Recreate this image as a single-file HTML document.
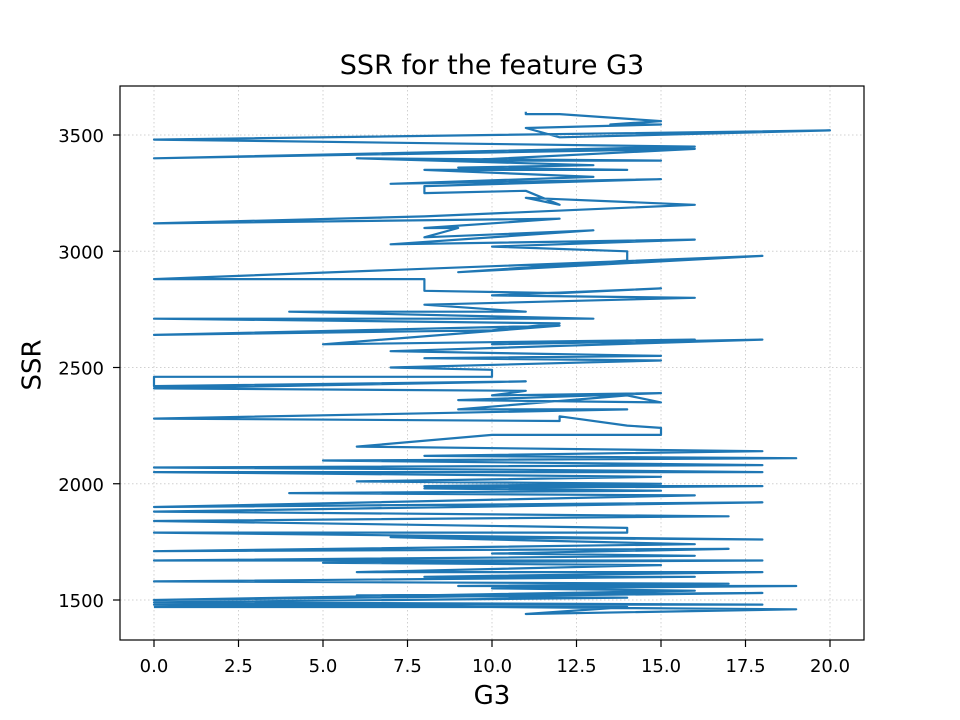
<!DOCTYPE html>
<html><head><meta charset="utf-8">
<style>
html,body{margin:0;padding:0;background:#fff;}
svg{display:block;font-family:"DejaVu Sans","Liberation Sans",sans-serif;}
</style></head>
<body>
<svg id="chart" width="960" height="720">
  <rect x="0" y="0" width="960" height="720" fill="#fff"/>
  <g id="grid"></g>
  <g id="series"></g>
  <rect x="120" y="86" width="744" height="554" fill="none" stroke="#000" stroke-width="1.2"/>
  <g id="xticks"></g>
  <g id="yticks"></g>
  <text x="492" y="74" text-anchor="middle" font-size="27">SSR for the feature G3</text>
  <text x="492" y="704" text-anchor="middle" font-size="26">G3</text>
  <text x="33" y="365" text-anchor="middle" font-size="26" transform="rotate(-90 33 365)" dominant-baseline="middle">SSR</text>
</svg>
<script>
const xTicks = [0, 2.5, 5, 7.5, 10, 12.5, 15, 17.5, 20];
const xTickLabels = ["0.0","2.5","5.0","7.5","10.0","12.5","15.0","17.5","20.0"];
const yTicks = [1500, 2000, 2500, 3000, 3500];
const yTickLabels = ["1500","2000","2500","3000","3500"];
const xs = [11,11,12,15,13.5,15,11,12,20,0,16,0,16,9,15,6,13,9,14,8,13,7,15,8,8,11,12,11,16,8,0,12,8,9,8,13,7,16,10,14,14,9,18,0,8,8,12,15,10,16,8,11,4,13,0,12,10,0,12,5,16,10,18,7,15,8,15,7,10,10,0,0,11,0,11,10,15,9,15,14,9,14,0,12,12,14,15,15,10,6,18,8,19,5,18,0,11,18,0,15,6,15,8,18,8,15,4,16,0,18,0,17,0,14,14,0,18,7,16,0,17,10,16,0,18,5,15,6,18,8,16,0,17,9,19,10,16,0,18,6,14,0,18,0,19,11,14,0];
const ys = [3600,3590,3590,3560,3545,3545,3530,3490,3520,3480,3450,3400,3440,3390,3390,3400,3370,3360,3350,3350,3320,3290,3310,3280,3250,3260,3200,3230,3200,3150,3120,3140,3100,3100,3060,3090,3030,3050,3020,3000,2960,2910,2980,2880,2880,2830,2820,2840,2810,2800,2770,2740,2740,2710,2710,2690,2660,2640,2680,2600,2620,2600,2620,2570,2550,2540,2530,2500,2490,2460,2460,2420,2440,2410,2400,2380,2390,2360,2350,2380,2320,2320,2280,2270,2290,2250,2240,2210,2210,2160,2140,2120,2110,2100,2080,2070,2060,2050,2050,2030,2010,2000,1990,1990,1980,1970,1960,1950,1900,1920,1880,1860,1840,1810,1790,1790,1760,1770,1740,1710,1720,1700,1690,1670,1670,1660,1650,1620,1620,1600,1600,1580,1570,1560,1560,1550,1540,1500,1530,1520,1510,1490,1480,1480,1460,1440,1470,1470];

const NS = "http://www.w3.org/2000/svg";
function xScale(v){ return 154 + v * (830 - 154) / 20; }
function yScale(v){ return 600 - (v - 1500) * (600 - 135) / 2000; }

const grid = document.getElementById('grid');
const xt = document.getElementById('xticks');
const yt = document.getElementById('yticks');

xTicks.forEach((t, i) => {
  const x = xScale(t);
  const g = document.createElementNS(NS, 'line');
  g.setAttribute('x1', x); g.setAttribute('x2', x); g.setAttribute('y1', 86); g.setAttribute('y2', 640);
  g.setAttribute('stroke', '#d0d0d0'); g.setAttribute('stroke-dasharray', '1.5,2.5'); g.setAttribute('stroke-width', '1');
  
  
  grid.appendChild(g);
  const tk = document.createElementNS(NS, 'line');
  tk.setAttribute('x1', x); tk.setAttribute('x2', x); tk.setAttribute('y1', 640); tk.setAttribute('y2', 647);
  tk.setAttribute('stroke', '#000'); tk.setAttribute('stroke-width', '1.2');
  
  
  xt.appendChild(tk);
  const lb = document.createElementNS(NS, 'text');
  lb.setAttribute('x', x); lb.setAttribute('y', 672); lb.setAttribute('text-anchor', 'middle'); lb.setAttribute('font-size', '18');
  lb.textContent = xTickLabels[i];
  
  
  xt.appendChild(lb);
});

yTicks.forEach((t, i) => {
  const y = yScale(t);
  const g = document.createElementNS(NS, 'line');
  g.setAttribute('x1', 120); g.setAttribute('x2', 864); g.setAttribute('y1', y); g.setAttribute('y2', y);
  g.setAttribute('stroke', '#d0d0d0'); g.setAttribute('stroke-dasharray', '1.5,2.5'); g.setAttribute('stroke-width', '1');
  
  
  grid.appendChild(g);
  const tk = document.createElementNS(NS, 'line');
  tk.setAttribute('x1', 113); tk.setAttribute('x2', 120); tk.setAttribute('y1', y); tk.setAttribute('y2', y);
  tk.setAttribute('stroke', '#000'); tk.setAttribute('stroke-width', '1.2');
  
  
  yt.appendChild(tk);
  const lb = document.createElementNS(NS, 'text');
  lb.setAttribute('x', 104); lb.setAttribute('y', y + 7); lb.setAttribute('text-anchor', 'end'); lb.setAttribute('font-size', '18');
  lb.textContent = yTickLabels[i];
  
  
  yt.appendChild(lb);
});

const pts = xs.map((x, i) => xScale(x).toFixed(1) + ',' + yScale(ys[i]).toFixed(1)).join(' ');
const pl = document.createElementNS(NS, 'polyline');
pl.setAttribute('points', pts);
pl.setAttribute('fill', 'none');
pl.setAttribute('stroke', '#1f77b4');
pl.setAttribute('stroke-width', '2.2');
pl.setAttribute('stroke-linejoin', 'round');


document.getElementById('series').appendChild(pl);
</script>
</body></html>
